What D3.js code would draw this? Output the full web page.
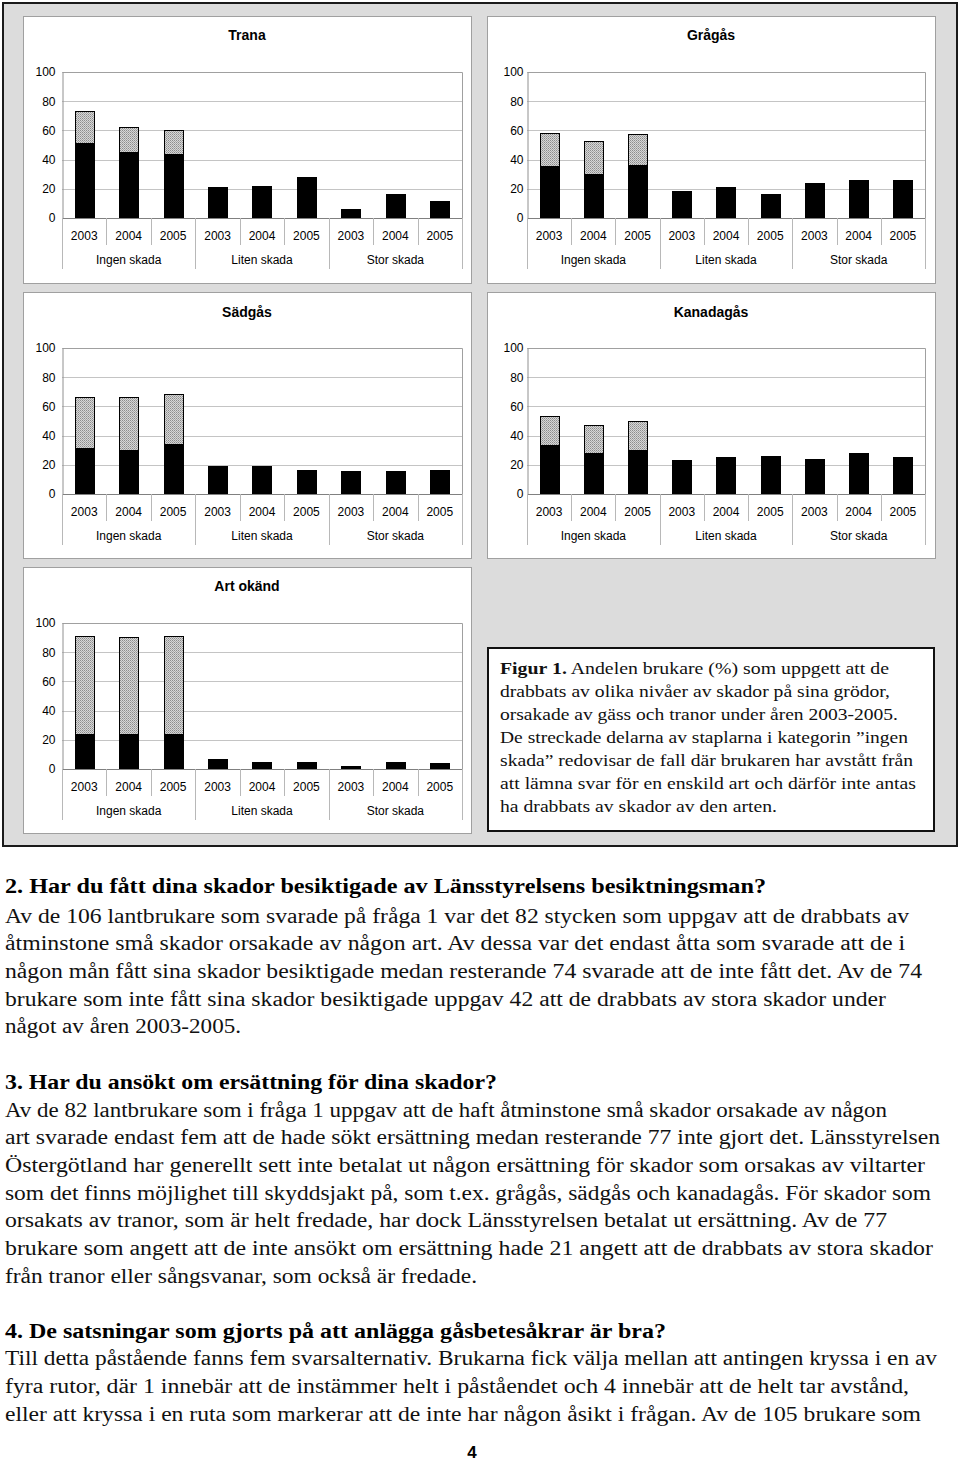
<!DOCTYPE html>
<html><head><meta charset="utf-8">
<script src="https://cdn.jsdelivr.net/npm/d3@7/dist/d3.min.js"></script>
<style>body{margin:0;background:#fff}svg{display:block}</style>
</head><body>
<script>
// ---------- DATA ----------
const years = ["2003","2004","2005"];
const groups = ["Ingen skada","Liten skada","Stor skada"];
const yTicks = [0,20,40,60,80,100];
const species = ["Trana","Grågås","Sädgås","Kanadagås","Art okänd"];
// solid (black) part per category: Ingen 03,04,05, Liten 03,04,05, Stor 03,04,05
const tranaSolid     = [51.7,45.1,43.7,21.2,21.9,28.2,6.2,16.4,11.8];
const tranaHatch     = [21.9,17.1,16.7,0,0,0,0,0,0];
const gragasSolid    = [35.3,30.3,36.0,18.2,21.2,16.2,23.9,26.2,26.2];
const gragasHatch    = [23.0,22.3,21.2,0,0,0,0,0,0];
const sadgasSolid    = [31.6,30.2,34.1,19.5,19.5,16.2,15.6,15.6,16.2];
const sadgasHatch    = [34.8,36.2,34.3,0,0,0,0,0,0];
const kanadagasSolid = [33.4,28.4,30.2,23.1,25.2,25.9,23.8,28.4,25.2];
const kanadagasHatch = [20.1,19.0,19.7,0,0,0,0,0,0];
const artokandSolid  = [24.0,24.0,24.0,6.6,4.8,4.8,2.1,4.8,4.1];
const artokandHatch  = [67.3,66.2,67.3,0,0,0,0,0,0];

const captionLines = [
 ["Figur 1.", " Andelen brukare (%) som uppgett att de"],
 ["", "drabbats av olika nivåer av skador på sina grödor,"],
 ["", "orsakade av gäss och tranor under åren 2003-2005."],
 ["", "De streckade delarna av staplarna i kategorin ”ingen"],
 ["", "skada” redovisar de fall där brukaren har avstått från"],
 ["", "att lämna svar för en enskild art och därför inte antas"],
 ["", "ha drabbats av skador av den arten."]
];
const q2Heading = "2. Har du fått dina skador besiktigade av Länsstyrelsens besiktningsman?";
const q2Lines = [
 "Av de 106 lantbrukare som svarade på fråga 1 var det 82 stycken som uppgav att de drabbats av",
 "åtminstone små skador orsakade av någon art. Av dessa var det endast åtta som svarade att de i",
 "någon mån fått sina skador besiktigade medan resterande 74 svarade att de inte fått det. Av de 74",
 "brukare som inte fått sina skador besiktigade uppgav 42 att de drabbats av stora skador under",
 "något av åren 2003-2005."
];
const q3Heading = "3. Har du ansökt om ersättning för dina skador?";
const q3Lines = [
 "Av de 82 lantbrukare som i fråga 1 uppgav att de haft åtminstone små skador orsakade av någon",
 "art svarade endast fem att de hade sökt ersättning medan resterande 77 inte gjort det. Länsstyrelsen",
 "Östergötland har generellt sett inte betalat ut någon ersättning för skador som orsakas av viltarter",
 "som det finns möjlighet till skyddsjakt på, som t.ex. grågås, sädgås och kanadagås. För skador som",
 "orsakats av tranor, som är helt fredade, har dock Länsstyrelsen betalat ut ersättning. Av de 77",
 "brukare som angett att de inte ansökt om ersättning hade 21 angett att de drabbats av stora skador",
 "från tranor eller sångsvanar, som också är fredade."
];
const q4Heading = "4. De satsningar som gjorts på att anlägga gåsbetesåkrar är bra?";
const q4Lines = [
 "Till detta påstående fanns fem svarsalternativ. Brukarna fick välja mellan att antingen kryssa i en av",
 "fyra rutor, där 1 innebär att de instämmer helt i påståendet och 4 innebär att de helt tar avstånd,",
 "eller att kryssa i en ruta som markerar att de inte har någon åsikt i frågan. Av de 105 brukare som"
];
const pageNumber = "4";

// ---------- LAYOUT ----------
const W = 960, H = 1462;
const svg = d3.select("body").append("svg").attr("width", W).attr("height", H);
svg.append("rect").attr("width", W).attr("height", H).attr("fill", "#fff");

const defs = svg.append("defs");
const pat = defs.append("pattern").attr("id","hatch").attr("patternUnits","userSpaceOnUse")
  .attr("width",2).attr("height",2);
pat.append("rect").attr("width",2).attr("height",2).attr("fill","#d6d6d6");
pat.append("rect").attr("width",1).attr("height",1).attr("fill","#8c8c8c");
pat.append("rect").attr("x",1).attr("y",1).attr("width",1).attr("height",1).attr("fill","#a8a8a8");

// outer gray frame
svg.append("rect").attr("x",3).attr("y",3).attr("width",954).attr("height",843)
  .attr("fill","#dcdcdc").attr("stroke","#1a1a1a").attr("stroke-width",2);

const panelLayout = [
 {box:[23,16,471,283],  plot:[62,72,462,218],  titleY:35,  tickGap:7},
 {box:[487,16,935,283], plot:[527,72,925,218], titleY:35,  tickGap:4},
 {box:[23,292,471,558], plot:[62,348,462,494], titleY:312, tickGap:7},
 {box:[487,292,935,558],plot:[527,348,925,494],titleY:312, tickGap:4},
 {box:[23,567,471,833], plot:[62,623,462,769], titleY:586, tickGap:7}
];
const solids = [tranaSolid, gragasSolid, sadgasSolid, kanadagasSolid, artokandSolid];
const hatches = [tranaHatch, gragasHatch, sadgasHatch, kanadagasHatch, artokandHatch];
const cats = [];
groups.forEach(g => years.forEach(y => cats.push(g + "|" + y)));

const sans = "'Liberation Sans', Arial, sans-serif";
const serif = "'Liberation Serif', 'Times New Roman', serif";

species.forEach((name, i) => {
  const L = panelLayout[i];
  const [bx0,by0,bx1,by1] = L.box;
  const [px0,py0,px1,py1] = L.plot;
  const g = svg.append("g");
  g.append("rect").attr("x",bx0+0.5).attr("y",by0+0.5).attr("width",bx1-bx0).attr("height",by1-by0)
    .attr("fill","#fff").attr("stroke","#a0a0a0").attr("stroke-width",1);
  g.append("text").attr("x",(bx0+bx1)/2).attr("y",L.titleY).attr("dy","0.35em")
    .attr("text-anchor","middle").attr("font-family",sans).attr("font-weight","bold")
    .attr("font-size",14).attr("fill","#000").text(name);

  const y = d3.scaleLinear().domain([0,100]).range([py1,py0]);
  const x = d3.scaleBand().domain(cats).range([px0,px1]).paddingInner(0.57).paddingOuter(0.285);
  const step = x.step();

  // gridlines
  g.append("g").selectAll("line").data(yTicks.filter(t=>t>0)).join("line")
    .attr("x1",px0).attr("x2",px1)
    .attr("y1",d=>Math.round(y(d))+0.5).attr("y2",d=>Math.round(y(d))+0.5)
    .attr("stroke","#c4c4c4").attr("stroke-width",1);
  // plot border (top/right)
  g.append("path").attr("d",`M${px0+0.5},${py0+0.5}H${px1+0.5}V${py1}`)
    .attr("fill","none").attr("stroke","#a0a0a0");

  // y axis
  const yAxis = d3.axisLeft(y).tickValues(yTicks).tickSize(0).tickPadding(L.tickGap);
  const ya = g.append("g").attr("transform",`translate(${px0+0.5},0)`).call(yAxis);
  ya.select(".domain").attr("stroke","#909090");
  ya.selectAll("text").attr("font-family",sans).attr("font-size",12).attr("fill","#000");

  // bars
  const solid = solids[i], hatch = hatches[i];
  g.append("g").selectAll("rect").data(cats).join("rect")
    .attr("x",d=>Math.round(x(d))+0.5).attr("width",Math.round(x.bandwidth()))
    .attr("y",(d,k)=>Math.round(y(solid[k]))+0.5)
    .attr("height",(d,k)=>Math.round(y(0))-Math.round(y(solid[k])))
    .attr("fill","#000").attr("stroke","#000").attr("stroke-width",1);
  g.append("g").selectAll("rect").data(cats.filter((d,k)=>hatch[k]>0)).join("rect")
    .attr("x",d=>Math.round(x(d))+0.5).attr("width",Math.round(x.bandwidth()))
    .attr("y",(d,k)=>Math.round(y(solid[k]+hatch[k]))+0.5)
    .attr("height",(d,k)=>Math.round(y(solid[k]))-Math.round(y(solid[k]+hatch[k])))
    .attr("fill","url(#hatch)").attr("stroke","#000").attr("stroke-width",1);

  // x axis baseline
  g.append("line").attr("x1",px0).attr("x2",px1+1).attr("y1",py1+0.5).attr("y2",py1+0.5)
    .attr("stroke","#808080");

  // category separators
  const yearRow = py1 + 18, groupRow = py1 + 42;
  const sepShort = py1 + 27, sepLong = py1 + 51;
  const edges = d3.range(cats.length + 1).map(k => px0 + k*step);
  g.append("g").selectAll("line").data(edges).join("line")
    .attr("x1",d=>Math.round(d)+0.5).attr("x2",d=>Math.round(d)+0.5)
    .attr("y1",py1).attr("y2",(d,k)=> (k%3===0) ? sepLong : sepShort)
    .attr("stroke","#b8b8b8");
  // year labels
  g.append("g").selectAll("text").data(cats).join("text")
    .attr("x",d=>x(d)+x.bandwidth()/2).attr("y",yearRow).attr("dy","0.35em")
    .attr("text-anchor","middle").attr("font-family",sans).attr("font-size",12)
    .text(d=>d.split("|")[1]);
  // group labels
  g.append("g").selectAll("text").data(groups).join("text")
    .attr("x",(d,k)=>px0 + (k*3+1.5)*step).attr("y",groupRow).attr("dy","0.35em")
    .attr("text-anchor","middle").attr("font-family",sans).attr("font-size",12)
    .text(d=>d);
});

// caption box
svg.append("rect").attr("x",488).attr("y",648).attr("width",446).attr("height",183)
  .attr("fill","#fff").attr("stroke","#111").attr("stroke-width",2);
const captionEnds = [889,890,898,908,913,916,777];
const captionY0 = 668, captionStep = 23;
captionLines.forEach((ln,k) => {
  const t = svg.append("text").attr("x",500).attr("y",captionY0 + k*captionStep).attr("dy","0.35em")
    .attr("font-family",serif).attr("font-size",17).attr("fill","#111")
    .attr("textLength",captionEnds[k]-500).attr("lengthAdjust","spacingAndGlyphs");
  if (ln[0]) t.append("tspan").attr("font-weight","bold").text(ln[0]);
  t.append("tspan").text(ln[1]);
});

// body text
function para(heading, headY, headEnd, lines, ys, ends){
  svg.append("text").attr("x",5).attr("y",headY).attr("dy","0.35em")
    .attr("font-family",serif).attr("font-weight","bold").attr("font-size",20).attr("fill","#000")
    .attr("textLength",headEnd-5).attr("lengthAdjust","spacingAndGlyphs").text(heading);
  lines.forEach((s,k)=>{
    svg.append("text").attr("x",5).attr("y",ys[k]).attr("dy","0.35em")
      .attr("font-family",serif).attr("font-size",20).attr("fill","#111")
      .attr("textLength",ends[k]-5).attr("lengthAdjust","spacingAndGlyphs").text(s);
  });
}
para(q2Heading, 886, 766, q2Lines, [916,943,971,999,1026], [909,905,922,886,241]);
para(q3Heading, 1082, 497, q3Lines, [1110,1137,1165,1193,1220,1248,1276], [887,940,925,931,887,933,477]);
para(q4Heading, 1331, 666, q4Lines, [1358,1386,1414], [937,909,921]);

svg.append("text").attr("x",472).attr("y",1452).attr("dy","0.35em").attr("text-anchor","middle")
  .attr("font-family",sans).attr("font-weight","bold").attr("font-size",17).text(pageNumber);
</script>
</body></html>
